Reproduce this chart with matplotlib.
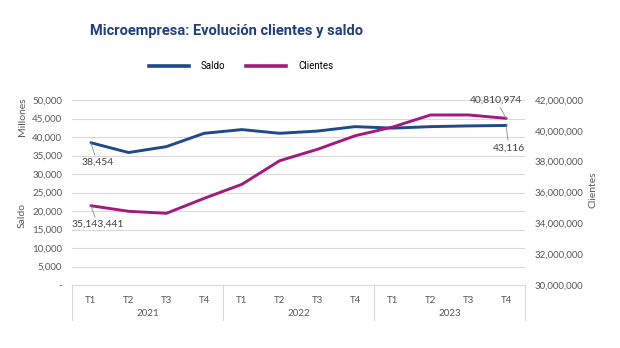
import numpy as np
import matplotlib.pyplot as plt
from matplotlib.lines import Line2D
from matplotlib import font_manager

quarters = ["T1", "T2", "T3", "T4"] * 3
years = ["2021", "2022", "2023"]
saldo = [38454, 35800, 37400, 41000, 42000, 41000, 41600, 42800, 42400, 42800, 43000, 43116]
clientes = [35143441, 34780000, 34650000, 35620000, 36530000, 38060000, 38800000,
            39680000, 40250000, 41030000, 41030000, 40810974]

blue = "#1F4A8A"
pink = "#A3197E"
grey = "#595959"
gridc = "#D9D9D9"

names = {f.name for f in font_manager.fontManager.ttflist}
narrow = 'Liberation Sans Narrow' if 'Liberation Sans Narrow' in names else 'Roboto'

plt.rcParams['font.family'] = ['Lato', 'DejaVu Sans']

fig = plt.figure(figsize=(6.2, 3.48), dpi=100)
ax = fig.add_axes([72/620, 1-285/348, 453/620, 185/348])
ax2 = ax.twinx()

x = np.arange(len(saldo))
ax.plot(x, saldo, color=blue, lw=2.1, solid_capstyle='round', zorder=3)
ax2.plot(x, clientes, color=pink, lw=2.1, solid_capstyle='round', zorder=3)

ax.set_xlim(-0.5, 11.5)
ax.set_ylim(0, 50000)
ax2.set_ylim(30000000, 42000000)

yt = np.arange(0, 50001, 5000)
ax.set_yticks(yt)
ax.set_yticklabels(["-"] + [f"{v:,}" for v in yt[1:]])
yt2 = np.arange(30000000, 42000001, 2000000)
ax2.set_yticks(yt2)
ax2.set_yticklabels([f"{v:,}" for v in yt2])
for v in yt[1:]:
    ax.axhline(v, color=gridc, lw=0.8, zorder=0)

for a in (ax, ax2):
    for s in a.spines.values():
        s.set_visible(False)
    a.tick_params(axis='y', length=0, labelsize=7, labelcolor=grey, pad=7)
ax2.patch.set_visible(False)

ax.set_xticks(x)
ax.set_xticklabels(quarters)
ax.tick_params(axis='x', length=0, labelsize=7, labelcolor=grey, pad=8)

tr = ax.get_xaxis_transform()
ax.plot([-0.5, 11.5], [0, 0], color=gridc, lw=0.8, transform=tr, clip_on=False)
for b in [-0.5, 3.5, 7.5, 11.5]:
    ax.plot([b, b], [0, -0.19], color=gridc, lw=0.8, transform=tr, clip_on=False)
for i, yr in enumerate(years):
    ax.text(4*i + 1.5, -0.152, yr, transform=tr, ha='center', va='center',
            fontsize=7, color=grey)

fig.text(22/620, 1-215/348, "Saldo", rotation=90, ha='center', va='center', fontsize=7.5, color=grey)
fig.text(22/620, 1-117/348, "Millones", rotation=90, ha='center', va='center', fontsize=7.5, color=grey)
fig.text(593/620, 1-190/348, "Clientes", rotation=90, ha='center', va='center', fontsize=7.5, color=grey)

lk = dict(arrowprops=dict(arrowstyle='-', color='#8C8C8C', lw=0.6, shrinkA=0, shrinkB=0),
          fontsize=7.5, color='#404040', ha='center', va='center', textcoords='offset points')
ax.annotate(f"{saldo[0]:,}", xy=(0, saldo[0]), xytext=(4.5, -14), **lk)
ax2.annotate(f"{clientes[0]:,}", xy=(0, clientes[0]), xytext=(5, -13.5), **lk)
ax2.annotate(f"{clientes[-1]:,}", xy=(11, clientes[-1]), xytext=(-7, 13), **lk)
ax.annotate(f"{saldo[-1]:,}", xy=(11, saldo[-1]), xytext=(2, -16), **lk)

fig.text(226/620, 1-31/348, "Microempresa: Evolución clientes y saldo", ha='center', va='center',
         fontsize=10.5, fontweight='bold', color="#1F3F7F", family=[narrow, 'DejaVu Sans'])

handles = [Line2D([], [], color=blue, lw=2.6), Line2D([], [], color=pink, lw=2.6)]
fig.legend(handles, ["Saldo", "Clientes"], loc='center', bbox_to_anchor=(241/620, 1-66/348),
           ncol=2, frameon=False, handlelength=4.1, handletextpad=1.2, columnspacing=2.2,
           prop={'family': [narrow, 'DejaVu Sans'], 'size': 7})

fig.savefig("out.png", dpi=100)
